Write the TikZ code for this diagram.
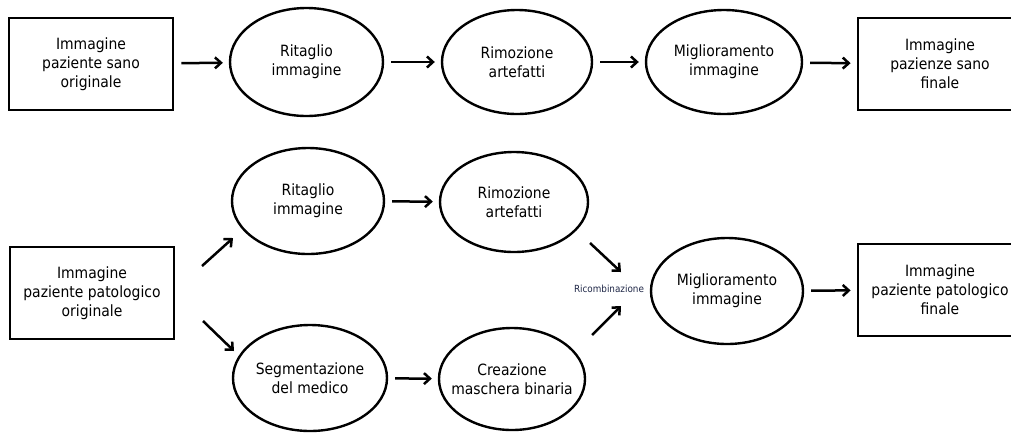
\documentclass[tikz,border=0pt]{standalone}
\usepackage{fontspec}
\setmainfont{DejaVu Sans Condensed}
\usetikzlibrary{shapes.geometric,arrows.meta}
\tikzset{
  boxnode/.style={draw, line width=2.8pt, minimum width=164pt, minimum height=92pt, inner sep=0pt},
  ellnode/.style={draw, ellipse, line width=2.4pt, inner sep=0pt},
  txt/.style={align=center, font=\fontsize{15.5}{19}\selectfont, inner sep=0pt},
  flow/.style={line width=2.5pt, -{Straight Barb[length=6pt,width=11pt,line width=2.5pt]}},
  gap/.style={shorten <=7pt, shorten >=6pt},
  small/.style={font=\fontsize{9.8}{11}\selectfont, text={rgb,255:red,30;green,38;blue,70}, inner sep=1pt}
}
\begin{document}
\begin{tikzpicture}[x=1pt,y=-1pt]
\useasboundingbox (0,0) rectangle (1011,432);

% healthy patient pipeline
\node[boxnode] (b1) at (91,64) {};
\node[txt] at (b1) {Immagine\\paziente sano\\originale};
\node[ellnode, minimum width=153pt, minimum height=108pt] (r1) at (306.5,62) {};
\node[txt] at (r1) {Ritaglio\\immagine};
\node[ellnode, minimum width=150pt, minimum height=104pt] (a1) at (517,62) {};
\node[txt] at (a1) {Rimozione\\artefatti};
\node[ellnode, minimum width=156pt, minimum height=104pt] (m1) at (724,62) {};
\node[txt] at (m1) {Miglioramento\\immagine};
\node[boxnode] (f1) at (940,64) {};
\node[txt] at (f1) {Immagine\\pazienze sano\\finale};

\draw[flow,gap] (b1) -- (r1);
\draw[flow,gap] (r1) -- (a1);
\draw[flow,gap] (a1) -- (m1);
\draw[flow,gap] (m1) -- (f1);

% pathological patient pipeline
\node[boxnode] (b2) at (92,293) {};
\node[txt] at (b2) {Immagine\\paziente patologico\\originale};
\node[ellnode, minimum width=152pt, minimum height=106pt] (r2) at (308,201) {};
\node[txt] at (r2) {Ritaglio\\immagine};
\node[ellnode, minimum width=148pt, minimum height=100pt] (a2) at (514,202) {};
\node[txt] at (a2) {Rimozione\\artefatti};
\node[ellnode, minimum width=154pt, minimum height=106pt] (s2) at (310,378) {};
\node[txt] at (s2) {Segmentazione\\del medico};
\node[ellnode, minimum width=146pt, minimum height=102pt] (c2) at (512,379) {};
\node[txt] at (c2) {Creazione\\maschera binaria};
\node[ellnode, minimum width=152pt, minimum height=106pt] (m2) at (727,291) {};
\node[txt] at (m2) {Miglioramento\\immagine};
\node[boxnode] (f2) at (940,290) {};
\node[txt] at (f2) {Immagine\\paziente patologico\\finale};
\node[small] (rc) at (609,289) {Ricombinazione};

% split and merge points
\coordinate (up0) at (202,266);
\coordinate (up1) at (233,238);
\coordinate (dn0) at (203,321);
\coordinate (dn1) at (234,351);
\coordinate (in1a) at (590,243);
\coordinate (in1b) at (621,272);
\coordinate (in2a) at (592,335);
\coordinate (in2b) at (621,306);

\draw[flow] (up0) -- (up1);
\draw[flow] (dn0) -- (dn1);
\draw[flow,gap] (r2) -- (a2);
\draw[flow,gap] (s2) -- (c2);
\draw[flow] (in1a) -- (in1b);
\draw[flow] (in2a) -- (in2b);
\draw[flow,gap] (m2) -- (f2);
\end{tikzpicture}
\end{document}
